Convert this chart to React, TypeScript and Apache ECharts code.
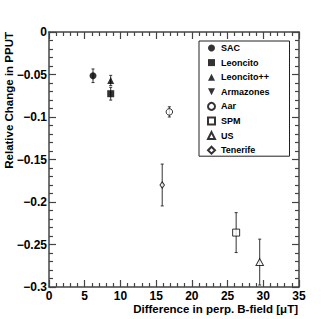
import React, { useEffect, useRef } from "react";
import * as echarts from "echarts";

const stations = ["SAC", "Leoncito", "Leoncito++", "Armazones", "Aar", "SPM", "US", "Tenerife"];
// [x (difference in perp. B-field, µT), y (relative change in PPUT), error]
const sacData = [[6.16, -0.0515, 0.008]];
const leoncitoData = [[8.64, -0.0726, 0.0075]];
const leoncitoPPData = [[8.64, -0.057, 0.006]];
const armazonesData: number[][] = [];
const aarData = [[16.85, -0.094, 0.006]];
const spmData = [[26.2, -0.236, 0.0235]];
const usData = [[29.5, -0.2707, 0.027]];
const tenerifeData = [[15.85, -0.18, 0.0246]];

const xTicks = { min: 0, max: 35, interval: 5 };
const yTicks = { min: -0.3, max: 0, interval: 0.05 };

const FONT = "Liberation Sans";
const AX = "#444";

const allData = [sacData, leoncitoData, leoncitoPPData, armazonesData, aarData, spmData, usData, tenerifeData];
const symbols = ["circle", "rect", "triangle", "path://M0,0 L10,0 L5,10 Z", "circle", "rect", "triangle", "diamond"];
const sizes: any[] = [7, 7, 7, 7, 6.5, 7, [7.5, 7], [4.5, 6.5]];
const filled = [true, true, true, true, false, false, false, false];

export default function App() {
  const ref = useRef<HTMLDivElement>(null);
  useEffect(() => {
    if (!ref.current) return;
    const chart = echarts.init(ref.current, undefined, { renderer: "svg" });

    const errSeries = allData.map((d, i) => ({
      type: "custom",
      name: stations[i] + " err",
      xAxisIndex: 0,
      yAxisIndex: 0,
      z: 1,
      silent: true,
      data: d.map((p) => [p[0], p[1] - p[2], p[1] + p[2]]),
      renderItem: (params: any, api: any) => {
        const lo = api.coord([api.value(0), api.value(1)]);
        const hi = api.coord([api.value(0), api.value(2)]);
        const st = { stroke: "#333", lineWidth: 1 };
        return {
          type: "group",
          children: [
            { type: "line", shape: { x1: lo[0], y1: lo[1], x2: hi[0], y2: hi[1] }, style: st },
            { type: "line", shape: { x1: lo[0] - 1.5, y1: lo[1], x2: lo[0] + 1.5, y2: lo[1] }, style: st },
            { type: "line", shape: { x1: hi[0] - 1.5, y1: hi[1], x2: hi[0] + 1.5, y2: hi[1] }, style: st },
          ],
        };
      },
      clip: true,
    }));

    const ptSeries = allData.map((d, i) => ({
      type: "scatter",
      name: stations[i],
      xAxisIndex: 0,
      yAxisIndex: 0,
      z: 3,
      symbol: symbols[i],
      symbolSize: sizes[i],
      data: d.map((p) => [p[0], p[1]]),
      itemStyle: filled[i]
        ? { color: "#000", borderWidth: 0 }
        : { color: "#fff", borderColor: "#000", borderWidth: 1 },
      emphasis: { disabled: true },
    }));

    const axisCommon = {
      axisLine: { show: true, onZero: false, lineStyle: { color: AX, width: 1.5 } },
      axisTick: { show: true, inside: true, length: 7, lineStyle: { color: AX, width: 1.2 } },
      minorTick: { show: true, splitNumber: 5, length: 4, lineStyle: { color: AX, width: 1.2 } },
      splitLine: { show: false },
    };

    const yFmt = (v: number) => {
      if (Math.abs(v) < 1e-9) return "0";
      const s = parseFloat(Math.abs(v).toFixed(2)).toString();
      return (v < 0 ? "\u2212" : "") + s;
    };

    chart.setOption({
      animation: false,
      backgroundColor: "#fff",
      grid: { left: 49, right: 33, top: 32, bottom: 32 },
      xAxis: [
        {
          type: "value",
          position: "bottom",
          ...xTicks,
          ...axisCommon,
          axisLabel: { show: true, margin: 3, fontFamily: FONT, fontWeight: "bold", fontSize: 12, color: "#000" },
        },
        {
          type: "value",
          position: "top",
          ...xTicks,
          ...axisCommon,
          axisLabel: { show: false },
        },
      ],
      yAxis: [
        {
          type: "value",
          position: "left",
          ...yTicks,
          ...axisCommon,
          axisLabel: {
            show: true,
            margin: 2,
            fontFamily: FONT,
            fontWeight: "bold",
            fontSize: 12,
            color: "#000",
            formatter: yFmt,
          },
        },
        {
          type: "value",
          position: "right",
          ...yTicks,
          ...axisCommon,
          axisLabel: { show: false },
        },
      ],
      legend: {
        show: true,
        orient: "vertical",
        left: 199,
        top: 41,
        padding: [2, 20, 1, 8],
        itemWidth: 7,
        itemHeight: 7,
        itemGap: 4.6,
        borderColor: "#222",
        borderWidth: 1,
        backgroundColor: "#fff",
        selectedMode: false,
        data: stations,
        textStyle: { fontFamily: FONT, fontWeight: "bold", fontSize: 9, color: "#000", lineHeight: 10, padding: [0, 0, 0, 1] },
      },
      graphic: [
        {
          type: "text",
          x: 298,
          y: 309,
          style: {
            text: "Difference in perp. B-field [\u03bcT]",
            fontFamily: FONT,
            fontWeight: "bold",
            fontSize: 11.5,
            fill: "#000",
            align: "right",
            verticalAlign: "middle",
          },
        },
        {
          type: "text",
          x: 8.5,
          y: 32,
          rotation: Math.PI / 2,
          style: {
            text: "Relative Change in PPUT",
            fontFamily: FONT,
            fontWeight: "bold",
            fontSize: 11.5,
            fill: "#000",
            align: "right",
            verticalAlign: "middle",
          },
        },
      ],
      series: [...errSeries, ...ptSeries],
    });
    return () => chart.dispose();
  }, []);
  return (
    <div
      ref={ref}
      style={{ position: "fixed", left: 0, top: 0, width: 332, height: 319, background: "#fff" }}
    />
  );
}
